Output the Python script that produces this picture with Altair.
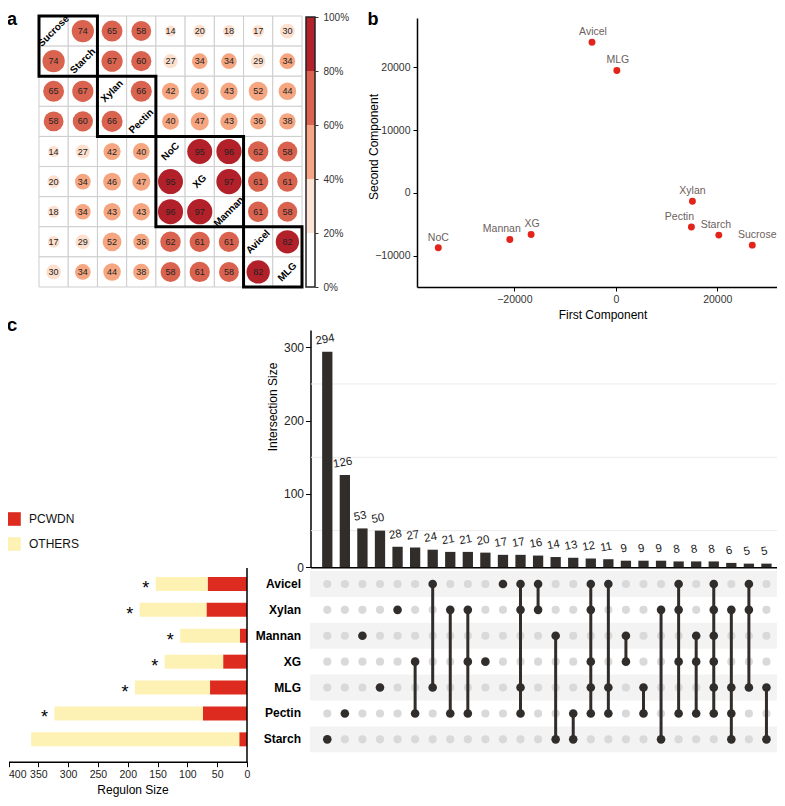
import altair as alt
import pandas as pd

# ======================= DATA =======================
# panel a : pairwise similarity (%) of regulons
CORR_VARS = ["Sucrose", "Starch", "Xylan", "Pectin", "NoC", "XG", "Mannan", "Avicel", "MLG"]
CORR_MATRIX = [
    [None, 74, 65, 58, 14, 20, 18, 17, 30],
    [74, None, 67, 60, 27, 34, 34, 29, 34],
    [65, 67, None, 66, 42, 46, 43, 52, 44],
    [58, 60, 66, None, 40, 47, 43, 36, 38],
    [14, 27, 42, 40, None, 95, 96, 62, 58],
    [20, 34, 46, 47, 95, None, 97, 61, 61],
    [18, 34, 43, 43, 96, 97, None, 61, 58],
    [17, 29, 52, 36, 62, 61, 61, None, 82],
    [30, 34, 44, 38, 58, 61, 58, 82, None],
]
CORR_CLUSTERS = [["Sucrose", "Starch"], ["Xylan", "Pectin"], ["NoC", "XG", "Mannan"], ["Avicel", "MLG"]]
CORR_LEGEND_TICKS = [0, 20, 40, 60, 80, 100]

# panel b : PCA
PCA_NAMES = ["Avicel", "MLG", "Xylan", "Pectin", "Starch", "Sucrose", "NoC", "Mannan", "XG"]
PCA_FIRST = [-4700, 200, 15100, 14900, 20300, 26900, -35000, -20900, -16700]
PCA_SECOND = [24000, 19500, -1300, -5400, -6700, -8300, -8700, -7400, -6600]
PCA_X_TICKS = [-20000, 0, 20000]
PCA_Y_TICKS = [-10000, 0, 10000, 20000]

# panel c : regulon sizes and intersections
SETS = ["Avicel", "Xylan", "Mannan", "XG", "MLG", "Pectin", "Starch"]
REGULON_TOTAL = [153, 180, 112, 138, 188, 323, 362]
REGULON_PCWDN = [66, 68, 12, 40, 62, 74, 13]
REGULON_SIGNIF = [True, True, True, True, True, True, False]
REGULON_TICKS = [0, 50, 100, 150, 200, 250, 300, 350, 400]
INTERSECTION_SIZE = [294, 126, 53, 50, 28, 27, 24, 21, 21, 20, 17, 17, 16,
                     14, 13, 12, 11, 9, 9, 9, 8, 8, 8, 6, 5, 5]
INTERSECTION_MEMBERS = [
    ["Starch"], ["Pectin"], ["Mannan"], ["MLG"], ["Xylan"], ["XG", "Pectin"],
    ["Avicel", "MLG"], ["Xylan", "Pectin"], ["Xylan", "XG", "Pectin"], ["XG"],
    ["Avicel"], ["Avicel", "Xylan", "MLG", "Pectin"], ["Avicel", "Xylan"],
    ["Mannan", "Starch"], ["Pectin", "Starch"],
    ["Avicel", "Xylan", "XG", "MLG", "Pectin"], ["Avicel", "MLG", "Pectin"],
    ["Mannan", "XG"], ["MLG", "Pectin"], ["Xylan", "Starch"],
    ["Avicel", "Xylan", "XG", "Pectin"], ["Mannan", "XG", "Pectin"],
    ["Avicel", "Xylan", "Mannan", "XG", "MLG", "Pectin"],
    ["Xylan", "MLG", "Pectin", "Starch"], ["Avicel", "Xylan", "MLG"], ["MLG", "Starch"],
]
UPSET_TICKS = [0, 100, 200, 300]
UPSET_GRID = [50, 150, 250]

# ======================= STYLE / LAYOUT =======================
W, H = 769, 790
FONT = "Liberation Sans"
CIRCLE_COLORS = ["#fddfce", "#f5a680", "#da634f", "#b22029"]
BAND_COLORS = ["#ffffff", "#fde3d3", "#f6a683", "#dc644f", "#b3222a"]
PCA_POINT = "#e3241b"
PCA_LABEL = "#6b605c"
PCA_LABEL_NUDGE = {"Avicel": 1, "MLG": 1, "Xylan": 0, "Pectin": -12, "Starch": -3,
                   "Sucrose": 5, "NoC": 0, "Mannan": -8, "XG": 1}
DARK = "#302d2b"
RED = "#dd2c1f"
YELLOW = "#fdf1b4"


def P(v):
    return v - 8


def lin(domain, rng):
    return alt.Scale(domain=domain, range=rng, nice=False, zero=False)


def note(label, x, y, **kw):
    return alt.Chart(pd.DataFrame({"label": [label]})).mark_text(**kw).encode(
        text="label:N", x=alt.value(P(x)), y=alt.value(P(y)))


layers = []

# ----------------------- panel a -----------------------
n = len(CORR_VARS)
A_X = ([0, n], [P(39), P(302)])
A_Y = ([0, n], [P(16), P(287)])


def ax(f):
    return alt.X(f, scale=lin(*A_X), axis=None)


def ay(f):
    return alt.Y(f, scale=lin(*A_Y), axis=None)


grid_rows, off_rows, diag_rows = [], [], []
for j in range(n):
    for i in range(n):
        grid_rows.append(dict(x0=i, x1=i + 1, y0=j, y1=j + 1))
        if i == j:
            diag_rows.append(dict(cx=i + 0.5, cy=j + 0.5, name=CORR_VARS[i]))
        else:
            off_rows.append(dict(cx=i + 0.5, cy=j + 0.5, value=int(CORR_MATRIX[j][i])))
grid_df = pd.DataFrame(grid_rows)
off_df = pd.DataFrame(off_rows)
diag_df = pd.DataFrame(diag_rows)

layers.append(alt.Chart(grid_df).mark_rect(fill="white", stroke="#cdcdcd", strokeWidth=1).encode(
    x=ax("x0:Q"), x2="x1:Q", y=ay("y0:Q"), y2="y1:Q"))
layers.append(alt.Chart(off_df).mark_circle(opacity=1).encode(
    x=ax("cx:Q"), y=ay("cy:Q"),
    size=alt.Size("value:Q", scale=alt.Scale(domain=[0, 100], range=[34, 656]), legend=None),
    color=alt.Color("value:Q", scale=alt.Scale(type="threshold", domain=[31, 56, 81], range=CIRCLE_COLORS),
                    legend=None)))
layers.append(alt.Chart(off_df).mark_text(fontSize=9, color="#222222").encode(
    x=ax("cx:Q"), y=ay("cy:Q"), text=alt.Text("value:Q", format="d")))
layers.append(alt.Chart(diag_df).mark_text(fontSize=10, fontWeight="bold", color="black", angle=315).encode(
    x=ax("cx:Q"), y=ay("cy:Q"), text="name:N"))
idx = {v: k for k, v in enumerate(CORR_VARS)}
box_df = pd.DataFrame([{"s": min(idx[v] for v in c), "e": max(idx[v] for v in c) + 1} for c in CORR_CLUSTERS])
layers.append(alt.Chart(box_df).mark_rect(fillOpacity=0, stroke="black", strokeWidth=3).encode(
    x=ax("s:Q"), x2="e:Q", y=ay("s:Q"), y2="e:Q"))

LEG_Y = ([0, 100], [P(287), P(17)])
band_df = pd.DataFrame({"lo": CORR_LEGEND_TICKS[:-1], "hi": CORR_LEGEND_TICKS[1:], "fill": BAND_COLORS})
layers.append(alt.Chart(band_df).mark_rect().encode(
    x=alt.value(P(306)), x2=alt.value(P(315)),
    y=alt.Y("lo:Q", scale=lin(*LEG_Y),
            axis=alt.Axis(orient="right", offset=P(315) - W, values=CORR_LEGEND_TICKS,
                          labelExpr="datum.value + '%'", title=None, grid=False, domain=False,
                          tickSize=3, tickColor="#333333", labelFontSize=10, labelColor="#333333",
                          labelPadding=5)),
    y2="hi:Q", color=alt.Color("fill:N", scale=None)))
layers.append(alt.Chart(pd.DataFrame({"lo": [0], "hi": [100]})).mark_rect(
    fillOpacity=0, stroke="#222222", strokeWidth=1.5).encode(
    x=alt.value(P(306)), x2=alt.value(P(315)),
    y=alt.Y("lo:Q", scale=lin(*LEG_Y), axis=None), y2="hi:Q"))
layers.append(note("a", 12, 10.5, fontSize=18, fontWeight="bold", baseline="top"))

# ----------------------- panel b -----------------------
B_X = ([-39200, 33350], [P(417), P(785)])
B_Y = ([-14960, 27850], [P(287), P(18)])
pca_df = pd.DataFrame({"name": PCA_NAMES, "pc1": PCA_FIRST, "pc2": PCA_SECOND})
layers.append(alt.Chart(pca_df).mark_circle(size=48, opacity=1, color=PCA_POINT).encode(
    x=alt.X("pc1:Q", scale=lin(*B_X),
            axis=alt.Axis(orient="bottom", offset=P(287) - H, values=PCA_X_TICKS, title=None, grid=False,
                          domainColor="black", domainWidth=1.5, tickColor="black", tickSize=4,
                          labelFontSize=10.5, labelColor="#333333", labelPadding=3, labelFlush=False,
                          format="d")),
    y=alt.Y("pc2:Q", scale=lin(*B_Y),
            axis=alt.Axis(orient="left", offset=-P(417), values=PCA_Y_TICKS, title=None, grid=False,
                          domainColor="black", domainWidth=1.5, tickColor="black", tickSize=4,
                          labelFontSize=10.5, labelColor="#333333", labelPadding=3, format="d"))))
for name in PCA_NAMES:
    layers.append(alt.Chart(pca_df).transform_filter(alt.datum.name == name).mark_text(
        fontSize=10.5, color=PCA_LABEL, dy=-10, dx=PCA_LABEL_NUDGE[name]).encode(
        x=alt.X("pc1:Q", scale=lin(*B_X), axis=None),
        y=alt.Y("pc2:Q", scale=lin(*B_Y), axis=None), text="name:N"))
layers.append(note("First Component", 603, 315, fontSize=12))
layers.append(note("Second Component", 374, 147, fontSize=12, angle=270))
layers.append(note("b", 373, 10.5, fontSize=18, fontWeight="bold", baseline="top"))

# ----------------------- panel c -----------------------
C_X = ([-0.95, 26.05], [P(310.6), P(784.9)])
C_BAR_Y = ([0, 323.6], [P(567.3), P(330)])
C_ROW = ([-0.5, 6.5], [P(571), P(752.3)])
L_X = ([0, 400], [P(247), P(8.5)])

ncol = len(INTERSECTION_SIZE)
bar_df = pd.DataFrame({"col": list(range(ncol)), "size": INTERSECTION_SIZE})
bar_df["x0"] = bar_df["col"] - 0.293
bar_df["x1"] = bar_df["col"] + 0.293
bar_df["zero"] = 0

layers.append(alt.Chart(pd.DataFrame({"g": UPSET_GRID})).mark_rule(color="#ebebeb", strokeWidth=1).encode(
    y=alt.Y("g:Q", scale=lin(*C_BAR_Y), axis=None), x=alt.value(P(311)), x2=alt.value(P(785))))
layers.append(alt.Chart(bar_df).mark_rect(color=DARK).encode(
    x=alt.X("x0:Q", scale=lin(*C_X),
            axis=alt.Axis(orient="bottom", offset=P(567.3) - H, ticks=False, labels=False, title=None,
                          grid=False, domainColor="black", domainWidth=1.5)),
    x2="x1:Q",
    y=alt.Y("zero:Q", scale=lin(*C_BAR_Y),
            axis=alt.Axis(orient="left", offset=-P(310.5), values=UPSET_TICKS, title=None, grid=False,
                          domainColor="black", domainWidth=1.5, tickColor="black", tickSize=5,
                          labelFontSize=12, labelColor="#222222", labelPadding=2)),
    y2="size:Q"))
layers.append(alt.Chart(bar_df).mark_text(fontSize=11.5, color="#222222", angle=350, baseline="bottom", dy=-7).encode(
    x=alt.X("col:Q", scale=lin(*C_X), axis=None),
    y=alt.Y("size:Q", scale=lin(*C_BAR_Y), axis=None), text=alt.Text("size:Q", format="d")))
layers.append(note("Intersection Size", 273, 407, fontSize=12, angle=270))

# matrix
stripe_df = pd.DataFrame({"y0": [r - 0.5 for r in range(0, len(SETS), 2)],
                          "y1": [r + 0.5 for r in range(0, len(SETS), 2)]})
layers.append(alt.Chart(stripe_df).mark_rect(color="#f3f3f3").encode(
    x=alt.value(P(310)), x2=alt.value(P(785)),
    y=alt.Y("y0:Q", scale=lin(*C_ROW), axis=None), y2="y1:Q"))
dot_rows, line_rows = [], []
for c, members in enumerate(INTERSECTION_MEMBERS):
    rows_in = [SETS.index(m) for m in members]
    for r in range(len(SETS)):
        dot_rows.append(dict(col=c, row=r, member="in" if r in rows_in else "out"))
    if len(rows_in) > 1:
        line_rows.append(dict(col=c, r0=min(rows_in), r1=max(rows_in)))
dot_df = pd.DataFrame(dot_rows)
line_df = pd.DataFrame(line_rows)
layers.append(alt.Chart(dot_df).transform_filter(alt.datum.member == "out").mark_circle(
    size=66, opacity=1, color="#d9d9d9").encode(
    x=alt.X("col:Q", scale=lin(*C_X), axis=None), y=alt.Y("row:Q", scale=lin(*C_ROW), axis=None)))
layers.append(alt.Chart(line_df).mark_rule(strokeWidth=3, color=DARK).encode(
    x=alt.X("col:Q", scale=lin(*C_X), axis=None), y=alt.Y("r0:Q", scale=lin(*C_ROW), axis=None), y2="r1:Q"))
layers.append(alt.Chart(dot_df).transform_filter(alt.datum.member == "in").mark_circle(
    size=74, opacity=1, color=DARK).encode(
    x=alt.X("col:Q", scale=lin(*C_X), axis=None), y=alt.Y("row:Q", scale=lin(*C_ROW), axis=None)))
set_df = pd.DataFrame({"set": SETS, "row": list(range(len(SETS)))})
layers.append(alt.Chart(set_df).mark_text(align="right", fontSize=12, fontWeight="bold", color="black").encode(
    x=alt.value(P(301)), y=alt.Y("row:Q", scale=lin(*C_ROW), axis=None), text="set:N"))

# left regulon bars
reg_rows = []
for r, s in enumerate(SETS):
    reg_rows.append(dict(set=s, type="PCWDN", start=0, end=REGULON_PCWDN[r], y0=r - 0.27, y1=r + 0.27))
    reg_rows.append(dict(set=s, type="OTHERS", start=REGULON_PCWDN[r], end=REGULON_TOTAL[r],
                         y0=r - 0.27, y1=r + 0.27))
reg_df = pd.DataFrame(reg_rows)
layers.append(alt.Chart(reg_df).mark_rect().encode(
    x=alt.X("start:Q", scale=lin(*L_X),
            axis=alt.Axis(orient="bottom", offset=P(761.7) - H, values=REGULON_TICKS, title=None, grid=False,
                          domainColor="black", domainWidth=1.5, tickColor="black", tickSize=5,
                          labelFontSize=10.5, labelColor="#222222", labelPadding=3, labelFlush=False,
                          labelAlign={"condition": {"test": "datum.value >= 400", "value": "left"},
                                      "value": "center"})),
    x2="end:Q",
    y=alt.Y("y0:Q", scale=lin(*C_ROW), axis=None), y2="y1:Q",
    color=alt.Color("type:N", scale=alt.Scale(domain=["PCWDN", "OTHERS"], range=[RED, YELLOW]),
                    legend=alt.Legend(orient="none", legendX=P(7), legendY=P(512), title=None,
                                      symbolType="square", symbolSize=185, symbolStrokeWidth=0,
                                      labelFontSize=12, labelColor="#111111", labelOffset=8,
                                      rowPadding=11, padding=0, symbolOpacity=1))))
star_df = pd.DataFrame({"total": REGULON_TOTAL, "row": list(range(len(SETS))), "sig": REGULON_SIGNIF})
layers.append(alt.Chart(star_df).transform_filter(alt.datum.sig).mark_text(
    text="*", fontSize=18, dx=-10, dy=5, color="black").encode(
    x=alt.X("total:Q", scale=lin(*L_X), axis=None), y=alt.Y("row:Q", scale=lin(*C_ROW), axis=None)))
layers.append(alt.Chart(pd.DataFrame({"v": [0]})).mark_rule(color="black", strokeWidth=1.5).encode(
    x=alt.value(P(247)), y=alt.value(P(568)), y2=alt.value(P(762))))
layers.append(note("Regulon Size", 133, 790, fontSize=12))
layers.append(note("c", 12, 325, fontSize=19, fontWeight="bold"))

chart = alt.layer(*layers).properties(
    width=W, height=H, padding=0, autosize=alt.AutoSizeParams(type="none")
).resolve_scale(
    x="independent", y="independent", color="independent", size="independent"
).resolve_axis(
    x="independent", y="independent"
).resolve_legend(
    color="independent", size="independent"
).configure(font=FONT).configure_view(strokeWidth=0)

chart.save("out.html", embed_options={"renderer": "svg", "actions": False})
